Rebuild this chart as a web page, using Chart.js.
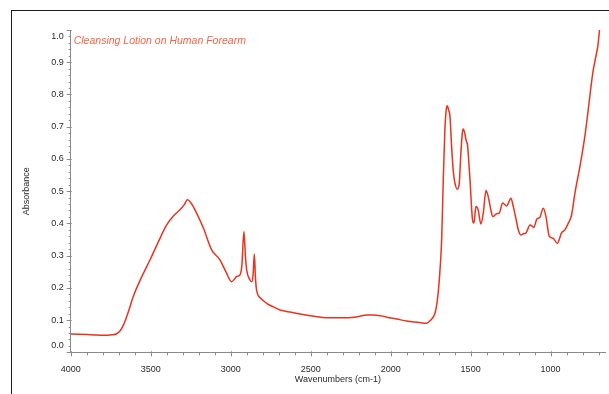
<!DOCTYPE html>
<html>
<head>
<meta charset="utf-8">
<script src="https://cdn.jsdelivr.net/npm/chart.js@4.4.0/dist/chart.umd.min.js"></script>
<style>
  html, body { margin: 0; padding: 0; background: #fff; overflow: hidden; }
  #wrap { position: relative; width: 609px; height: 394px; }
  #frame { position: absolute; left: 11px; top: 10px; width: 700px; height: 500px; border: 1px solid #1c1c1c; box-sizing: border-box; }
  canvas { position: absolute; left: 0; top: 0; }
</style>
</head>
<body>
<div id="wrap">
  <div id="frame"></div>
  <canvas id="c" width="609" height="394"></canvas>
</div>
<script>
const chartTitle = "Cleansing Lotion on Human Forearm";
const xTitle = "Wavenumbers (cm-1)";
const yTitle = "Absorbance";

const wavenumbers = [4000,3950,3900,3850,3800,3750,3720,3692,3670,3640,3609,3560,3504,3450,3400,3360,3317,3290,3271,3250,3213,3170,3119,3067,3030,2994,2975,2963,2942,2930,2917,2908,2900,2880,2869,2860,2852,2845,2838,2810,2775,2730,2692,2620,2567,2480,2400,2275,2200,2150,2108,2060,2025,1960,1900,1830,1775,1754,1723,1708,1696,1681,1671,1661,1652,1646,1638,1629,1619,1608,1598,1583,1571,1561,1552,1546,1537,1529,1519,1504,1488,1479,1467,1453,1436,1421,1404,1390,1375,1362,1337,1321,1300,1275,1248,1233,1215,1202,1187,1170,1154,1129,1104,1087,1067,1046,1029,1008,984,959,931,911,890,869,848,817,786,765,745,733,717,705,692];
const absorbance = [0.057,0.056,0.055,0.054,0.053,0.054,0.056,0.066,0.085,0.125,0.173,0.230,0.287,0.345,0.395,0.422,0.442,0.458,0.473,0.465,0.432,0.385,0.318,0.287,0.250,0.219,0.228,0.235,0.240,0.270,0.375,0.300,0.256,0.225,0.219,0.240,0.305,0.230,0.193,0.167,0.152,0.140,0.131,0.124,0.119,0.112,0.107,0.107,0.111,0.116,0.116,0.113,0.109,0.103,0.097,0.093,0.090,0.098,0.121,0.162,0.224,0.349,0.535,0.690,0.755,0.765,0.752,0.732,0.639,0.560,0.525,0.506,0.525,0.618,0.680,0.693,0.680,0.659,0.641,0.535,0.411,0.401,0.452,0.442,0.398,0.432,0.502,0.483,0.445,0.421,0.430,0.432,0.463,0.454,0.478,0.452,0.410,0.380,0.364,0.368,0.370,0.395,0.388,0.413,0.419,0.447,0.421,0.359,0.354,0.338,0.371,0.380,0.400,0.426,0.494,0.576,0.670,0.752,0.835,0.877,0.918,0.950,1.010];

const xMajorTicks = [4000,3500,3000,2500,2000,1500,1000];
const yMajorTicks = [0.0,0.1,0.2,0.3,0.4,0.5,0.6,0.7,0.8,0.9,1.0];

const points = wavenumbers.map((w, i) => ({x: w, y: absorbance[i]}));

const fontFamily = "'Liberation Sans', Arial, sans-serif";
const tickFont = {family: fontFamily, size: 9};
const axisColor = '#8a8a8a';
const labelColor = '#2a2a2a';

const axisDecor = {
  id: 'axisDecor',
  afterDraw(chart) {
    const ctx = chart.ctx;
    const xs = chart.scales.x, ys = chart.scales.y;
    const ca = chart.chartArea;
    ctx.save();
    ctx.strokeStyle = axisColor;
    ctx.lineWidth = 1;
    ctx.beginPath();
    for (let w = 700; w <= 4000; w += 100) {
      const px = Math.round(xs.getPixelForValue(w)) + 0.5;
      const major = w % 500 === 0;
      ctx.moveTo(px, ca.bottom - (major ? 1 : 0));
      ctx.lineTo(px, ca.bottom + (major ? 4 : 3));
    }
    for (let k = 0; k <= 50; k++) {
      const v = k * 0.02;
      const py = Math.round(ys.getPixelForValue(v)) + 0.5;
      const major = k % 5 === 0;
      ctx.moveTo(ca.left - (major ? 4 : 2), py);
      ctx.lineTo(ca.left + (major ? 1 : 0), py);
    }
    ctx.stroke();
    // y tick labels, kept inside the axis extent like the original
    ctx.fillStyle = labelColor;
    ctx.font = "9px " + fontFamily;
    ctx.textAlign = 'right';
    ctx.textBaseline = 'middle';
    yMajorTicks.forEach(v => {
      let py = ys.getPixelForValue(v);
      py = Math.min(Math.max(py, ca.top + 7), ca.bottom - 7);
      ctx.fillText(v.toFixed(1), ca.left - 7, py);
    });
    // chart title inside plot area
    ctx.fillStyle = '#f2674a';
    ctx.font = "italic 10.5px " + fontFamily;
    ctx.textAlign = 'left';
    ctx.fillText(chartTitle, ca.left + 3, 41);
    ctx.restore();
  }
};

new Chart(document.getElementById('c'), {
  type: 'line',
  data: {
    datasets: [{
      data: points,
      borderColor: '#e8341e',
      borderWidth: 1.5,
      pointRadius: 0,
      cubicInterpolationMode: 'monotone',
      fill: false
    }]
  },
  options: {
    responsive: false,
    animation: false,
    events: [],
    layout: { padding: { left: 11, right: 4, top: 30, bottom: 0 } },
    plugins: { legend: { display: false }, tooltip: { enabled: false } },
    scales: {
      x: {
        type: 'linear',
        reverse: true,
        min: 660,
        max: 4000,
        afterBuildTicks: (scale) => { scale.ticks = xMajorTicks.map(v => ({value: v})); },
        afterFit: (scale) => { scale.height = 41.7; },
        grid: { display: false },
        border: { display: true, color: axisColor, width: 1 },
        ticks: { font: tickFont, color: labelColor, padding: 4, maxRotation: 0, autoSkip: false,
                 callback: (v) => String(v) },
        title: { display: true, text: xTitle, font: tickFont, color: labelColor, padding: { top: 0, bottom: 8.6 } }
      },
      y: {
        type: 'linear',
        min: 0,
        max: 1.0,
        afterBuildTicks: (scale) => { scale.ticks = yMajorTicks.map(v => ({value: v})); },
        afterFit: (scale) => { scale.width = 59.7; },
        grid: { display: false },
        border: { display: true, color: axisColor, width: 1 },
        ticks: { display: false },
        title: { display: true, text: yTitle, font: tickFont, color: labelColor, padding: { top: 10.6, bottom: 0 } }
      }
    }
  },
  plugins: [axisDecor]
});
</script>
</body>
</html>
